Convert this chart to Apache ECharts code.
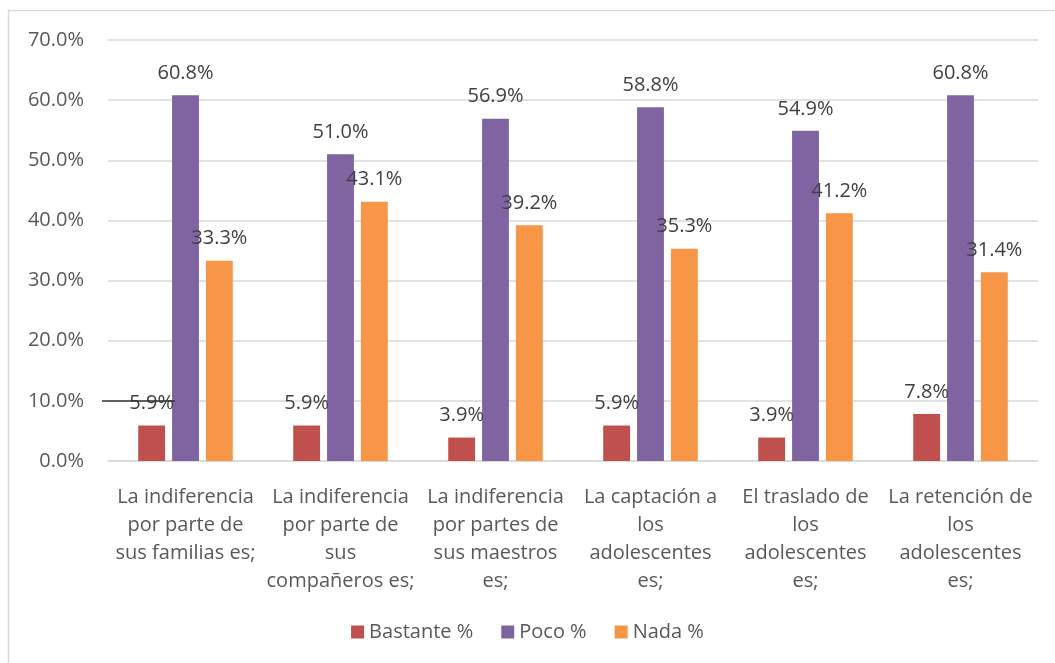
<!DOCTYPE html>
<html>
<head>
<meta charset="utf-8">
<script src="https://cdn.jsdelivr.net/npm/echarts@6/dist/echarts.min.js"></script>
<style>
    html, body { margin: 0; padding: 0; background: #fff; }
    #chart { width: 1055px; height: 663px; }
</style>
</head>
<body>
<div id="chart"></div>
<script>
var categories = [
    'La indiferencia\npor parte de\nsus familias es;',
    'La indiferencia\npor parte de\nsus\ncompañeros es;',
    'La indiferencia\npor partes de\nsus maestros\nes;',
    'La captación a\nlos\nadolescentes\nes;',
    'El traslado de\nlos\nadolescentes\nes;',
    'La retención de\nlos\nadolescentes\nes;'
];
var bastante = [5.9, 5.9, 3.9, 5.9, 3.9, 7.8];
var poco = [60.8, 51.0, 56.9, 58.8, 54.9, 60.8];
var nada = [33.3, 43.1, 39.2, 35.3, 41.2, 31.4];

var fontName = '"Open Sans", "Liberation Sans", sans-serif';
var textColor = '#595959';

var chart = echarts.init(document.getElementById('chart'));

// etiqueta de cada barra
var barLabel = {
    show: true,
    position: 'top',
    distance: 12,
    color: '#404040',
    fontSize: 20,
    fontFamily: fontName,
    formatter: function (p) { return p.value.toFixed(1) + '%'; }
};

function makeSeries(name, data, color) {
    return {
        name: name,
        type: 'bar',
        data: data,
        barGap: '26%',
        barCategoryGap: '39%',
        itemStyle: { color: color },
        label: barLabel
    };
}

var option = {
    animation: false,
    color: ['#C0504D', '#8064A2', '#F79646'],
    grid: { left: 108, right: 17, top: 40, bottom: 202 },
    legend: {
        bottom: 16,
        left: 'center',
        itemWidth: 13,
        itemHeight: 13,
        itemGap: 28,
        icon: 'rect',
        textStyle: { color: textColor, fontSize: 20, fontFamily: fontName },
        data: ['Bastante %', 'Poco %', 'Nada %']
    },
    xAxis: {
        type: 'category',
        data: categories,
        axisLine: { lineStyle: { color: '#d9d9d9', width: 1.5 } },
        axisTick: { show: false },
        axisLabel: {
            interval: 0,
            margin: 22,
            color: textColor,
            fontSize: 20,
            lineHeight: 28,
            fontFamily: fontName
        }
    },
    yAxis: {
        type: 'value',
        min: 0,
        max: 70,
        interval: 10,
        axisLine: { show: false },
        axisTick: { show: false },
        splitLine: { lineStyle: { color: '#d9d9d9', width: 1.5 } },
        axisLabel: {
            margin: 24,
            color: textColor,
            fontSize: 20,
            fontFamily: fontName,
            formatter: function (v) { return v.toFixed(1) + '%'; }
        }
    },
    graphic: [
        {
            type: 'rect',
            shape: { x: 8.5, y: 10.5, width: 1100, height: 700 },
            style: { fill: null, stroke: '#d9d9d9', lineWidth: 1.5 },
            silent: true
        },
        {
            type: 'line',
            shape: { x1: 102, y1: 401, x2: 175, y2: 401 },
            style: { stroke: '#333', lineWidth: 1.5 },
            z: 100,
            silent: true
        }
    ],
    series: [
        makeSeries('Bastante %', bastante, '#C0504D'),
        makeSeries('Poco %', poco, '#8064A2'),
        makeSeries('Nada %', nada, '#F79646')
    ]
};
chart.setOption(option);
</script>
</body>
</html>
